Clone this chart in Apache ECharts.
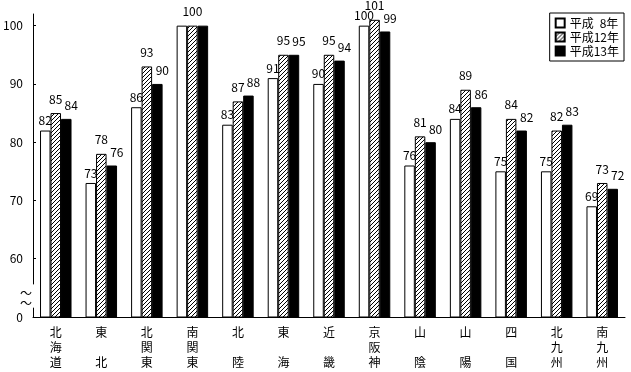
<!DOCTYPE html>
<html><head><meta charset="utf-8">
<script src="https://cdn.jsdelivr.net/npm/echarts@6/dist/echarts.min.js"></script>
<style>html,body{margin:0;padding:0;background:#fff}#c{width:631px;height:372px}</style>
</head><body><div id="c"></div>
<script>
// ---- data ----
const categories = ['北海道','東北','北関東','南関東','北陸','東海','近畿','京阪神','山陰','山陽','四国','北九州','南九州'];
const seriesNames = ['平成\u20028年','平成12年','平成13年'];
const h8  = [82,73,86,100,83,91,90,100,76,84,75,75,69];
const h12 = [85,78,93,100,87,95,95,101,81,89,84,82,73];
const h13 = [84,76,90,100,88,95,94,99,80,86,82,83,72];
// where all three values coincide, the reference prints a single shared label (on the middle bar)
const sharedLabelCats = ['南関東'];
// axis is broken between 0 and 60: the bottom tick (50 on the scale) is labelled 0
const yTickValues = [50,60,70,80,90,100];
const yTickLabels = ['0','60','70','80','90','100'];

const FONT = '"Noto Sans CJK JP", sans-serif';

function hatchPattern(){
  const c = document.createElement('canvas');
  c.width = 4; c.height = 4;
  const g = c.getContext('2d');
  g.fillStyle = '#fff'; g.fillRect(0,0,4,4);
  g.fillStyle = '#000';
  for (let i = 0; i < 4; i++) g.fillRect(i, 3 - i, 1, 1);
  return c;
}
const hatch = {image: hatchPattern(), repeat: 'repeat'};

function catLabel(name){
  const ch = Array.from(name);
  if (ch.length === 2) return ch[0] + '\n\n' + ch[1];
  return ch.join('\n');
}

const chart = echarts.init(document.getElementById('c'), null, {renderer:'canvas'});
const labelBase = {show:true, position:'top', color:'#000', fontSize:12, fontFamily:FONT};
const fills = ['#fff', hatch, '#000'];
const datas = [h8, h12, h13];
const labelCfg = [
  {distance:4, offset:[0,0]},
  {distance:8, offset:[0,0]},
  {distance:7, offset:[5,0]}
];

function seriesData(arr, si){
  return arr.map((v, ci) => {
    if (si !== 1 && sharedLabelCats.indexOf(categories[ci]) >= 0) {
      return {value: v, label: {show: false}};
    }
    return v;
  });
}

chart.setOption({
  animation:false,
  backgroundColor:'#fff',
  grid:{left:33, right:6, top:14, bottom:55},
  legend:{
    orient:'vertical', right:7, top:13,
    icon:'rect', itemWidth:9, itemHeight:9, itemGap:2,
    padding:[4,5,4,5],
    borderColor:'#000', borderWidth:1,
    textStyle:{fontSize:12, fontFamily:FONT, color:'#000', padding:[0,0,0,0]},
    data: seriesNames
  },
  xAxis:{
    type:'category', data:categories,
    axisLine:{lineStyle:{color:'#000', width:1}},
    axisTick:{show:false},
    axisLabel:{color:'#000', fontSize:12, fontFamily:FONT, lineHeight:15, margin:8,
      interval:0, formatter:catLabel}
  },
  yAxis:{
    type:'value', min:50, max:102, interval:10,
    axisLine:{show:true, lineStyle:{color:'#000', width:1}},
    axisTick:{show:true, inside:true, length:3, lineStyle:{color:'#000'}, customValues:yTickValues},
    splitLine:{show:false},
    axisLabel:{color:'#000', fontSize:12, fontFamily:FONT, margin:10,
      customValues:yTickValues,
      formatter:function(v){ const i = yTickValues.indexOf(v); return i >= 0 ? yTickLabels[i] : ''; }}
  },
  series: seriesNames.map((n,i)=>({
    name:n, type:'bar', data:seriesData(datas[i], i),
    barWidth:10.5, barGap:'0%',
    itemStyle:{color:fills[i], borderColor:'#000', borderWidth:1},
    label:Object.assign({}, labelBase, labelCfg[i])
  }))
});

// axis break marks
const yA = chart.convertToPixel({yAxisIndex:0}, 55.6);
const yB = chart.convertToPixel({yAxisIndex:0}, 51.6);
const y1 = chart.convertToPixel({yAxisIndex:0}, 54.0);
const y2 = chart.convertToPixel({yAxisIndex:0}, 52.4);
chart.setOption({
  graphic:[
    {type:'rect', shape:{x:30, y:yA, width:6, height:yB-yA}, style:{fill:'#fff'}, z:100},
    {type:'text', x:26, y:y1, style:{text:'～', font:'12px ' + FONT, fill:'#000', align:'center', verticalAlign:'middle'}, z:100},
    {type:'text', x:26, y:y2, style:{text:'～', font:'12px ' + FONT, fill:'#000', align:'center', verticalAlign:'middle'}, z:100}
  ]
});
</script></body></html>
